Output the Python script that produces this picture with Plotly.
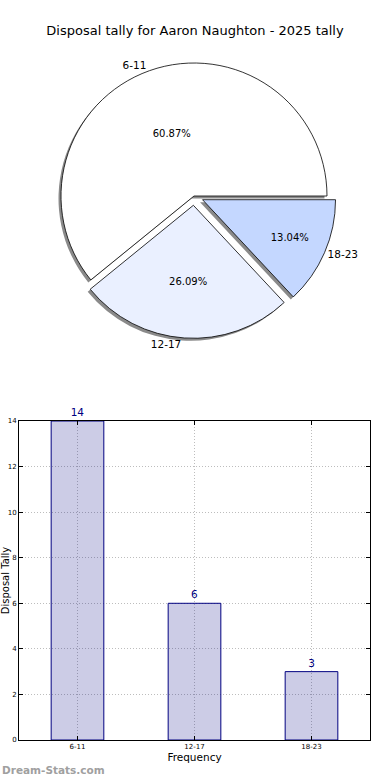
import plotly.graph_objects as go

title = "Disposal tally for Aaron Naughton - 2025 tally"
categories = ["6-11", "12-17", "18-23"]
counts = [14, 6, 3]
pie_colors = ["#ffffff", "#eaf0ff", "#c4d7ff"]
pulls = [0, 0.07, 0.07]
y_ticks = [0, 2, 4, 6, 8, 10, 12, 14]

W, H = 390, 780
FONT = "DejaVu Sans"

# first slice starts at 3 o'clock and runs counterclockwise
start_rot = 90 - 360 * counts[0] / sum(counts)

# pie geometry (pixels)
cx, cy, r = 194, 196, 133
half = r * (1 + max(pulls))

def pdom(cx, cy):
    return dict(x=[(cx - half) / W, (cx + half) / W],
                y=[1 - (cy + half) / H, 1 - (cy - half) / H])

common = dict(labels=categories, values=counts, sort=False,
              direction="counterclockwise", rotation=start_rot, pull=pulls)

fig = go.Figure()

# shadow
fig.add_trace(go.Pie(
    **common, domain=pdom(cx - 2.5, cy + 2.5),
    marker=dict(colors=["#8a8a8a"] * 3, line=dict(width=0)),
    textinfo="none", hoverinfo="skip", showlegend=False))

# main pie with percentages
fig.add_trace(go.Pie(
    **common, domain=pdom(cx, cy),
    marker=dict(colors=pie_colors, line=dict(color="black", width=0.8)),
    texttemplate="%{percent:.2%}", textposition="inside", insidetextorientation="horizontal",
    textfont=dict(family=FONT, size=10, color="black"),
    showlegend=False))

# outside labels
fig.add_trace(go.Pie(
    **common, domain=pdom(cx, cy),
    marker=dict(colors=["rgba(0,0,0,0)"] * 3, line=dict(width=0)),
    texttemplate="%{label}", textposition="outside",
    textfont=dict(family=FONT, size=10.5, color="black"),
    hoverinfo="skip", showlegend=False))

# bar chart
fig.add_trace(go.Bar(
    x=categories, y=counts, width=0.45,
    marker=dict(color="rgba(0,0,128,0.2)", line=dict(color="#000080", width=1)),
    text=[str(v) for v in counts], textposition="outside",
    textfont=dict(family=FONT, size=10.5, color="#000080"),
    cliponaxis=False, showlegend=False, xaxis="x", yaxis="y"))

grid = dict(showgrid=True, gridcolor="#bdbdbd", griddash="1px,2px", gridwidth=1)

fig.update_layout(
    width=W, height=H, autosize=False,
    margin=dict(l=0, r=0, t=0, b=0),
    paper_bgcolor="white", plot_bgcolor="white",
    font=dict(family=FONT, color="black"),
    title=dict(text=title, x=0.5, xanchor="center", y=1 - 30 / H, yanchor="middle",
               font=dict(family=FONT, size=13, color="black")),
    xaxis=dict(domain=[19 / W, 370 / W], range=[-0.5, 2.5], type="category",
               showline=True, mirror="ticks", linecolor="black", linewidth=1,
               ticks="inside", ticklen=4, tickcolor="black", **grid,
               tickfont=dict(family=FONT, size=7, color="black"),
               title=dict(text="Frequency", font=dict(family=FONT, size=10.5), standoff=2),
               automargin=False, zeroline=False),
    yaxis=dict(domain=[1 - 740 / H, 1 - 421 / H], range=[0, 14], tickvals=y_ticks,
               showline=True, mirror="ticks", linecolor="black", linewidth=1,
               ticks="inside", ticklen=4, tickcolor="black", **grid,
               tickfont=dict(family=FONT, size=7, color="black"),
               title=dict(text="Disposal Tally", font=dict(family=FONT, size=10), standoff=17),
               automargin=False, zeroline=False),
    annotations=[dict(text="<b>Dream-Stats.com</b>", x=0, y=1 - 770 / H,
                      xref="paper", yref="paper", xanchor="left", yanchor="middle",
                      showarrow=False, font=dict(family=FONT, size=10.5, color="#a0a0a0"))],
)

fig.write_html("out.html", config={"displayModeBar": False},
               post_script="document.body.style.margin='0';")
